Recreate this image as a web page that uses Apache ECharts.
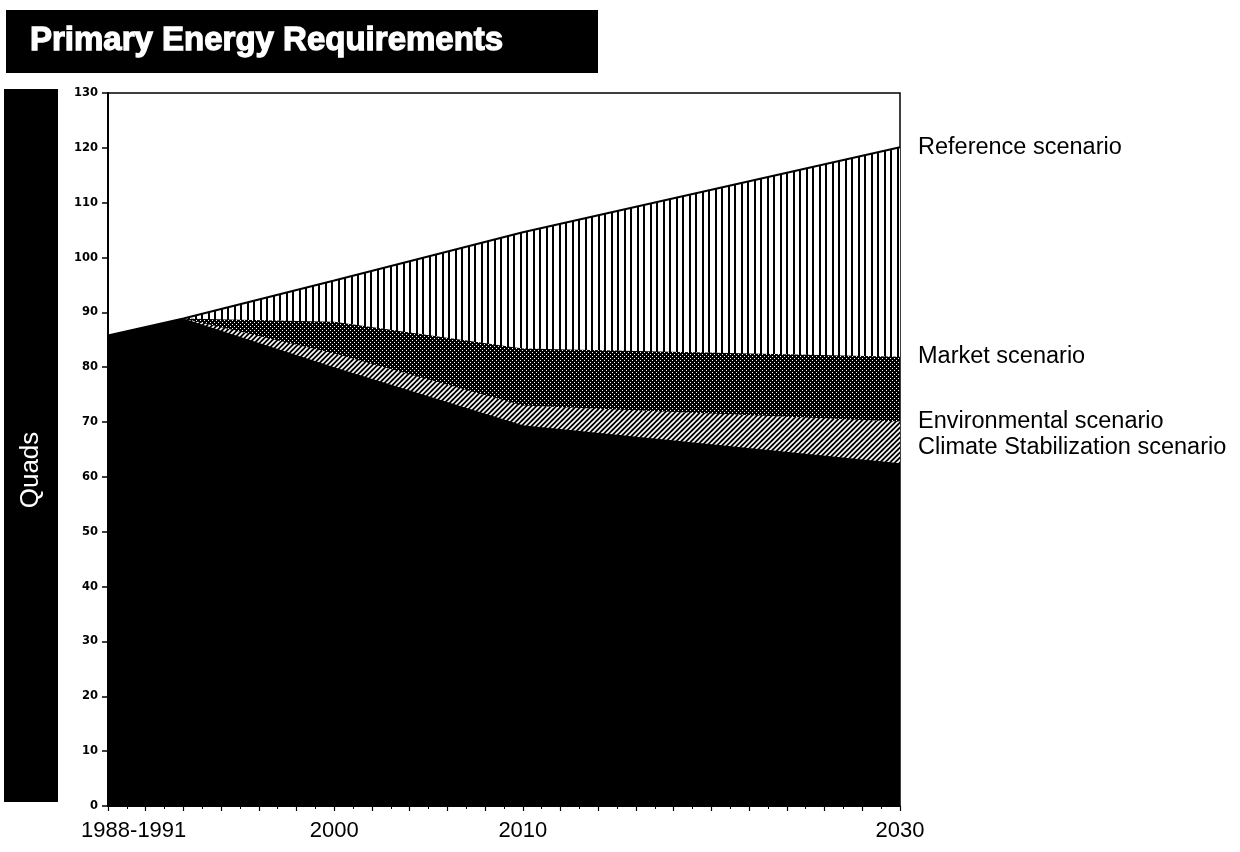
<!DOCTYPE html>
<html><head><meta charset="utf-8">
<script src="https://cdn.jsdelivr.net/npm/echarts/dist/echarts.min.js"></script>
<style>html,body{margin:0;padding:0;background:#fff}#c{width:1240px;height:852px}</style>
</head><body><div id="c"></div>
<script>
// ---- data ----
const years = [1988, 1992, 2000, 2010, 2030];
const referenceScenario     = [85.8, 88.9, 95.8, 104.6, 120.1];
const marketScenario        = [85.8, 88.9, 88.3, 83.4, 81.9];
const environmentalScenario = [85.8, 88.9, 82.5, 73.0, 70.1];
const climateScenario       = [85.8, 88.9, 80.0, 69.4, 62.5];
const seriesNames = ['Reference scenario', 'Market scenario', 'Environmental scenario', 'Climate Stabilization scenario'];
const xTickLabels = {1990: '1988-1991', 2000: '2000', 2010: '2010', 2030: '2030'};
const yMin = 0, yMax = 130, yStep = 10;
const xMin = 1988, xMax = 2030, xStep = 2;
const titleText = 'Primary Energy Requirements';
const yAxisTitle = 'Quads';

// ---- patterns ----
function makeCanvas(w, h, draw) {
  const c = document.createElement('canvas'); c.width = w; c.height = h;
  const g = c.getContext('2d'); draw(g, w, h); return c;
}
const vertPattern = makeCanvas(13, 4, (g, w, h) => {
  g.fillStyle = '#fff'; g.fillRect(0, 0, w, h);
  g.fillStyle = '#000'; g.fillRect(0, 0, 2, h); g.fillRect(6, 0, 2, h);
});
const dotPattern = makeCanvas(4, 4, (g, w, h) => {
  g.fillStyle = '#000'; g.fillRect(0, 0, w, h);
  g.fillStyle = '#fff'; g.fillRect(0, 0, 1, 1); g.fillRect(2, 2, 1, 1);
});
const diagPattern = makeCanvas(5, 5, (g, w, h) => {
  g.fillStyle = '#000'; g.fillRect(0, 0, w, h);
  g.strokeStyle = '#fff'; g.lineWidth = 1.6;
  g.beginPath();
  g.moveTo(-1, 1); g.lineTo(1, -1);
  g.moveTo(0, 5); g.lineTo(5, 0);
  g.moveTo(4, 6); g.lineTo(6, 4);
  g.stroke();
});
const fills = [
  {image: vertPattern, repeat: 'repeat'},
  {image: dotPattern, repeat: 'repeat'},
  {image: diagPattern, repeat: 'repeat'},
  '#000'
];
const values = [referenceScenario, marketScenario, environmentalScenario, climateScenario];
const lineWidths = [2, 0, 0, 0];
const labelOffsets = [[0, 0], [0, 0], [0, 0], [0, -16]];
const labelFont = '"Liberation Sans", Arial, sans-serif';

const chart = echarts.init(document.getElementById('c'), null, {renderer: 'canvas'});
chart.setOption({
  animation: false,
  backgroundColor: '#fff',
  grid: {left: 108, right: 340, top: 93, bottom: 46, show: true, borderColor: '#000', borderWidth: 1.5},
  xAxis: {
    type: 'value', min: xMin, max: xMax, interval: xStep,
    axisLine: {show: true, lineStyle: {color: '#000', width: 2}},
    axisTick: {show: true, length: 5, lineStyle: {color: '#000', width: 1.2}},
    minorTick: {show: true, splitNumber: 2, length: 3, lineStyle: {color: '#000', width: 1}},
    splitLine: {show: false},
    axisLabel: {
      margin: 14, color: '#000', fontSize: 22, fontFamily: labelFont,
      formatter: v => !xTickLabels[v] ? '' : (v === 1990 ? '{p|' + xTickLabels[v] + '}' : '{t|' + xTickLabels[v] + '}'),
      rich: {
        t: {fontSize: 22, fontFamily: labelFont, color: '#000'},
        p: {fontSize: 22, fontFamily: labelFont, color: '#000', padding: [0, 24, 0, 0]}
      }
    }
  },
  yAxis: {
    type: 'value', min: yMin, max: yMax, interval: yStep,
    axisLine: {show: true, lineStyle: {color: '#000', width: 2}},
    axisTick: {show: true, length: 6, lineStyle: {color: '#000', width: 1.5}},
    splitLine: {show: false},
    axisLabel: {margin: 10, color: '#000', fontSize: 11.5, fontWeight: 'bold', fontFamily: '"DejaVu Sans", sans-serif'}
  },
  series: seriesNames.map((name, k) => ({
    type: 'line', name: name,
    data: years.map((yr, i) => [yr, values[k][i]]),
    showSymbol: false, symbol: 'none',
    lineStyle: {color: '#000', width: lineWidths[k]},
    areaStyle: {color: fills[k], opacity: 1},
    endLabel: {
      show: true, formatter: p => p.seriesName, distance: 18, offset: labelOffsets[k],
      color: '#000', fontSize: 23.5, fontFamily: labelFont
    }
  })),
  graphic: [
    {type: 'rect', shape: {x: 6, y: 10, width: 592, height: 63}, style: {fill: '#000'}},
    {type: 'text', x: 30, y: 41, style: {
      text: titleText, fill: '#fff', stroke: '#fff', lineWidth: 1.3,
      font: 'bold 33px "Liberation Sans", Arial, sans-serif',
      align: 'left', verticalAlign: 'middle'}},
    {type: 'rect', shape: {x: 4, y: 89, width: 54, height: 713}, style: {fill: '#000'}},
    {type: 'text', x: 31, y: 470, rotation: Math.PI / 2, style: {
      text: yAxisTitle, fill: '#fff', font: '26px "Liberation Sans", Arial, sans-serif',
      align: 'center', verticalAlign: 'middle'}}
  ]
});
</script>
</body></html>
